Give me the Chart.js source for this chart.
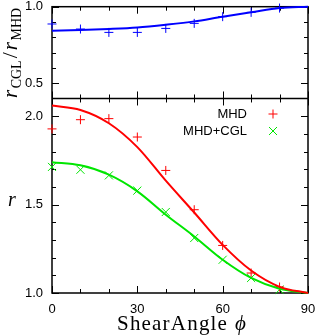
<!DOCTYPE html>
<html><head><meta charset="utf-8">
<script src="https://cdn.jsdelivr.net/npm/chart.js@4/dist/chart.umd.min.js"></script>
<style>html,body{margin:0;padding:0;background:#fff;} canvas{display:block;}</style>
</head><body>
<canvas id="c" width="316" height="336"></canvas>
<script>
// ---- data ----
const markerAngles = [0, 10, 20, 30, 40, 50, 60, 70, 80];
const curveAngles  = [0, 10, 20, 30, 40, 50, 60, 70, 80, 90];
const mhdCurve   = [2.06, 2.035, 1.96, 1.825, 1.635, 1.455, 1.272, 1.127, 1.035, 1.0];
const cglCurve   = [1.74, 1.722, 1.669, 1.575, 1.443, 1.32, 1.188, 1.085, 1.024, 1.0];
const ratioCurve = [0.843, 0.847, 0.854, 0.864, 0.882, 0.904, 0.935, 0.963, 0.991, 1.0];
const mhdPoints   = [1.928, 1.98, 1.986, 1.882, 1.693, 1.471, 1.269, 1.113, 1.034];
const cglPoints   = [1.713, 1.697, 1.665, 1.579, 1.458, 1.311, 1.188, 1.085, 1.019];
const ratioPoints = [0.887, 0.854, 0.832, 0.832, 0.858, 0.891, 0.935, 0.963, 0.991];
const xTickLabels = [0, 30, 60, 90];
const yTopTickLabels = [0.5, 1.0];
const yBotTickLabels = [1.0, 1.5, 2.0];
const legendLabels = ['MHD', 'MHD+CGL'];

const RED = '#ff0000', GREEN = '#00e600', BLUE = '#0000ff';
function pts(xs, ys) { return ys.map((y, i) => ({x: xs[i], y})); }

const SANS = '"Liberation Sans", Arial, sans-serif';
const SERIF = '"Liberation Serif", "Times New Roman", serif';

const framePlugin = {
  id: 'frame',
  beforeDatasetsDraw(chart) {
    const ctx = chart.ctx, x = chart.scales.x, yt = chart.scales.yTop, yb = chart.scales.yBot;
    const L = x.left, R = x.right;
    ctx.save();
    ctx.strokeStyle = '#000';
    ctx.lineWidth = 1;
    const seg = (a, b, c, d) => { ctx.beginPath(); ctx.moveTo(a, b); ctx.lineTo(c, d); ctx.stroke(); };
    for (let v = 0; v <= 90; v += 10) {
      const px = Math.round(x.getPixelForValue(v)) + 0.5;
      const len = (v % 30 === 0) ? 7 : 4;
      seg(px, yt.top, px, yt.top + len);
      seg(px, yt.bottom, px, yt.bottom - len);
      seg(px, yb.top, px, yb.top + len);
      seg(px, yb.bottom, px, yb.bottom - len);
    }
    for (let i = 4; i <= 10; i++) {
      const py = Math.round(yt.getPixelForValue(i / 10)) + 0.5;
      const len = (i % 5 === 0) ? 7 : 4;
      seg(L, py, L + len, py);
      seg(R, py, R - len, py);
    }
    for (let i = 10; i <= 21; i++) {
      const py = Math.round(yb.getPixelForValue(i / 10)) + 0.5;
      const len = (i % 5 === 0) ? 7 : 4;
      seg(L, py, L + len, py);
      seg(R, py, R - len, py);
    }
    ctx.lineWidth = 1.5;
    ctx.strokeRect(L, yt.top, R - L, yb.bottom - yt.top);
    seg(L, yt.bottom, R, yt.bottom);
    ctx.restore();
  },
  afterDraw(chart) {
    const ctx = chart.ctx;
    ctx.save();
    ctx.fillStyle = '#000';
    ctx.textBaseline = 'alphabetic';
    ctx.font = 'italic 20px ' + SERIF;
    ctx.textAlign = 'left';
    ctx.fillText('r', 8, 206);
    // top y title rotated: r_CGL / r_MHD
    ctx.save();
    ctx.translate(17, 98);
    ctx.rotate(-Math.PI / 2);
    let u = 0;
    const part = (t, font, v) => { ctx.font = font; ctx.fillText(t, u, v); u += ctx.measureText(t).width; };
    part('r', 'italic 21px ' + SERIF, 0);
    u += 1.5;
    part('CGL', '14px ' + SERIF, 3.5);
    u += 2;
    part('/', '22px ' + SERIF, 0);
    u += 2;
    part('r', 'italic 21px ' + SERIF, 0);
    u += 1.5;
    part('MHD', '14px ' + SERIF, 3.5);
    ctx.restore();
    // x title
    ctx.font = '21px ' + SERIF;
    ctx.textAlign = 'left';
    try { ctx.letterSpacing = '1.2px'; } catch (e) {}
    ctx.fillText('ShearAngle', 117, 330);
    try { ctx.letterSpacing = '0px'; } catch (e) {}
    ctx.font = 'italic 21px ' + SERIF;
    ctx.fillText('\u03D5', 235, 330);
    // legend
    ctx.font = '13px ' + SANS;
    ctx.textAlign = 'right';
    ctx.textBaseline = 'middle';
    ctx.fillText(legendLabels[0], 247, 114);
    ctx.fillText(legendLabels[1], 247, 131);
    ctx.lineWidth = 1;
    ctx.strokeStyle = RED;
    ctx.beginPath();
    ctx.moveTo(268.5, 114); ctx.lineTo(277.5, 114);
    ctx.moveTo(273, 109.5); ctx.lineTo(273, 118.5);
    ctx.stroke();
    ctx.strokeStyle = GREEN;
    ctx.beginPath();
    ctx.moveTo(269, 127); ctx.lineTo(277, 135);
    ctx.moveTo(277, 127); ctx.lineTo(269, 135);
    ctx.stroke();
    ctx.restore();
  }
};

function fixY(w) {
  return function (scale) {
    scale.width = w;
    scale.paddingTop = 0; scale.paddingBottom = 0; scale.paddingLeft = 0; scale.paddingRight = 0;
  };
}

const chart = new Chart(document.getElementById('c'), {
  type: 'line',
  data: {
    datasets: [
      {label: 'ratio fit', data: pts(curveAngles, ratioCurve), yAxisID: 'yTop', borderColor: BLUE, borderWidth: 2, pointRadius: 0, cubicInterpolationMode: 'monotone', fill: false, clip: false},
      {label: 'ratio', data: pts(markerAngles, ratioPoints), yAxisID: 'yTop', showLine: false, pointStyle: 'cross', pointRadius: 4.5, borderColor: BLUE, backgroundColor: BLUE, pointBorderWidth: 1, borderWidth: 1, clip: false},
      {label: 'MHD fit', data: pts(curveAngles, mhdCurve), yAxisID: 'yBot', borderColor: RED, borderWidth: 2, pointRadius: 0, cubicInterpolationMode: 'monotone', fill: false, clip: false},
      {label: 'CGL fit', data: pts(curveAngles, cglCurve), yAxisID: 'yBot', borderColor: GREEN, borderWidth: 2, pointRadius: 0, cubicInterpolationMode: 'monotone', fill: false, clip: false},
      {label: 'MHD', data: pts(markerAngles, mhdPoints), yAxisID: 'yBot', showLine: false, pointStyle: 'cross', pointRadius: 4.5, borderColor: RED, backgroundColor: RED, pointBorderWidth: 1, borderWidth: 1, clip: false},
      {label: 'MHD+CGL', data: pts(markerAngles, cglPoints), yAxisID: 'yBot', showLine: false, pointStyle: 'crossRot', pointRadius: 5.7, borderColor: GREEN, backgroundColor: GREEN, pointBorderWidth: 1, borderWidth: 1, clip: false}
    ]
  },
  options: {
    responsive: false,
    animation: false,
    devicePixelRatio: 1,
    layout: {padding: {top: 6, right: 8, left: 0, bottom: 0}},
    plugins: {legend: {display: false}, tooltip: {enabled: false}},
    elements: {line: {tension: 0}},
    scales: {
      x: {
        type: 'linear', min: 0, max: 90, position: 'bottom',
        grid: {display: false, drawTicks: false}, border: {display: false},
        ticks: {color: '#000', font: {family: SANS, size: 13}, padding: 9, autoSkip: false, maxRotation: 0},
        afterBuildTicks: s => { s.ticks = xTickLabels.map(v => ({value: v})); },
        afterFit: s => { s.height = 43; s.paddingLeft = 0; s.paddingRight = 0; s.paddingTop = 0; s.paddingBottom = 0; }
      },
      yBot: {
        type: 'linear', min: 1.0, max: 2.1, position: 'left', stack: 'panels', stackWeight: 195,
        grid: {display: false, drawTicks: false}, border: {display: false},
        ticks: {color: '#000', font: {family: SANS, size: 13}, padding: 9, autoSkip: false, callback: v => Number(v).toFixed(1)},
        afterBuildTicks: s => { s.ticks = yBotTickLabels.map(v => ({value: v})); },
        afterFit: fixY(52)
      },
      yTop: {
        type: 'linear', min: 0.4, max: 1.0, position: 'left', stack: 'panels', stackWeight: 92,
        grid: {display: false, drawTicks: false}, border: {display: false},
        ticks: {color: '#000', font: {family: SANS, size: 13}, padding: 9, autoSkip: false, callback: v => Number(v).toFixed(1)},
        afterBuildTicks: s => { s.ticks = yTopTickLabels.map(v => ({value: v})); },
        afterFit: fixY(52)
      }
    }
  },
  plugins: [framePlugin]
});
</script>
</body></html>
